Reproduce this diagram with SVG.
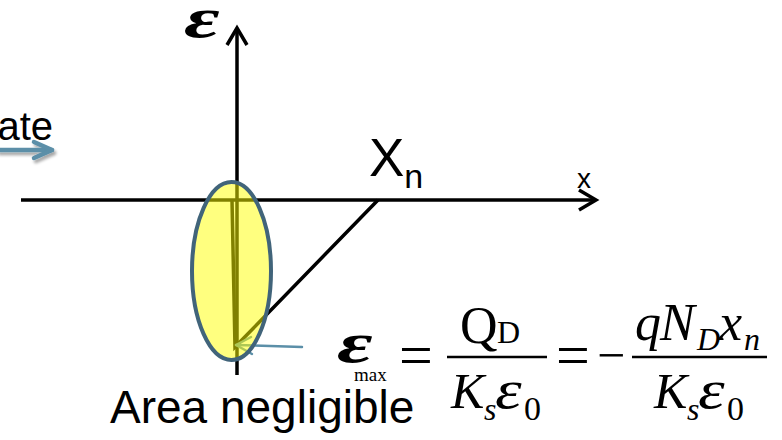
<svg xmlns="http://www.w3.org/2000/svg" width="782" height="440" viewBox="0 0 782 440">
<defs>
<style>
.ax{stroke:#000;stroke-width:3.5;fill:none;stroke-linecap:butt;stroke-linejoin:miter}
.sans{font-family:"Liberation Sans",Arial,sans-serif;fill:#000}
.ser{font-family:"Liberation Serif","Times New Roman",serif;fill:#000}
.it{font-style:italic}
.bi{font-style:italic;font-weight:bold}
.blue{stroke:#5b8fa8;fill:none;stroke-linecap:round;stroke-linejoin:round}
</style>
<filter id="sh" x="-20%" y="-50%" width="150%" height="250%">
<feGaussianBlur in="SourceAlpha" stdDeviation="1.5"/>
<feOffset dx="1.5" dy="2.5" result="b"/>
<feComponentTransfer><feFuncA type="linear" slope="0.35"/></feComponentTransfer>
<feMerge><feMergeNode/><feMergeNode in="SourceGraphic"/></feMerge>
</filter>
</defs>
<rect width="782" height="440" fill="#fff"/>
<g id="connectors">
<line class="ax" x1="237" y1="375" x2="237" y2="28"/>
<polyline class="ax" points="227,45 237,28 247,45"/>
<line class="ax" x1="21" y1="200" x2="596" y2="200"/>
<polyline class="ax" points="579,190 596,200 579,210"/>
<polyline class="ax" points="232,200 235,347 378,200"/>
<g id="arrow-ate" filter="url(#sh)">
<line class="blue" x1="-2" y1="150" x2="52" y2="150" stroke-width="4.5"/>
<polyline class="blue" points="34,142 52,150 34,158" stroke-width="4.5"/>
</g>
<g id="arrow-small">
<line class="blue" x1="302" y1="347" x2="236" y2="345" stroke-width="2.5"/>
<polyline class="blue" points="251,337 236,345 252,354" stroke-width="2.5"/>
</g>
</g>
<g id="region">
<ellipse cx="231.5" cy="271" rx="39.5" ry="89" fill="#ffff00" fill-opacity="0.5" stroke="#41647a" stroke-width="4"/>
</g>
<g id="labels">
<text class="ser bi" transform="translate(184,37) scale(1.5,1)" font-size="58">ε</text>
<text class="sans" x="53" y="140" font-size="40" text-anchor="end">ate</text>
<text class="sans" x="369" y="176" font-size="53">X<tspan font-size="34" dy="12">n</tspan></text>
<text class="sans" x="577" y="188" font-size="28">x</text>
<text class="sans" x="110" y="423" font-size="46">Area negligible</text>
</g>
<g id="equation">
<text class="ser bi" transform="translate(337,362) scale(1.5,1)" font-size="58">ε</text>
<text class="ser" x="354" y="381" font-size="19">max</text>
<text class="ser" x="399" y="375" font-size="60">=</text>
<line x1="447" y1="357" x2="547" y2="357" stroke="#000" stroke-width="2.5"/>
<text class="ser" x="460" y="343" font-size="52">Q</text>
<text class="ser" x="497" y="343" font-size="32">D</text>
<text class="ser it" x="451" y="408" font-size="50">K</text>
<text class="ser it" x="484" y="420" font-size="32">s</text>
<text class="ser it" transform="translate(495,408) scale(1.25,1)" font-size="54">ε</text>
<text class="ser" x="524" y="420" font-size="34">0</text>
<text class="ser" x="556" y="375" font-size="60">=</text>
<text class="ser" x="597" y="372" font-size="50">−</text>
<line x1="632" y1="357" x2="767" y2="357" stroke="#000" stroke-width="2.5"/>
<text class="ser it" x="635" y="340" font-size="52">q</text>
<text class="ser it" x="660" y="340" font-size="52">N</text>
<text class="ser it" x="697" y="350" font-size="32">D</text>
<text class="ser it" x="719" y="340" font-size="52">x</text>
<text class="ser it" x="744" y="350" font-size="32">n</text>
<text class="ser it" x="654" y="408" font-size="50">K</text>
<text class="ser it" x="687" y="420" font-size="32">s</text>
<text class="ser it" transform="translate(698,408) scale(1.25,1)" font-size="54">ε</text>
<text class="ser" x="727" y="420" font-size="34">0</text>
</g>
</svg>
